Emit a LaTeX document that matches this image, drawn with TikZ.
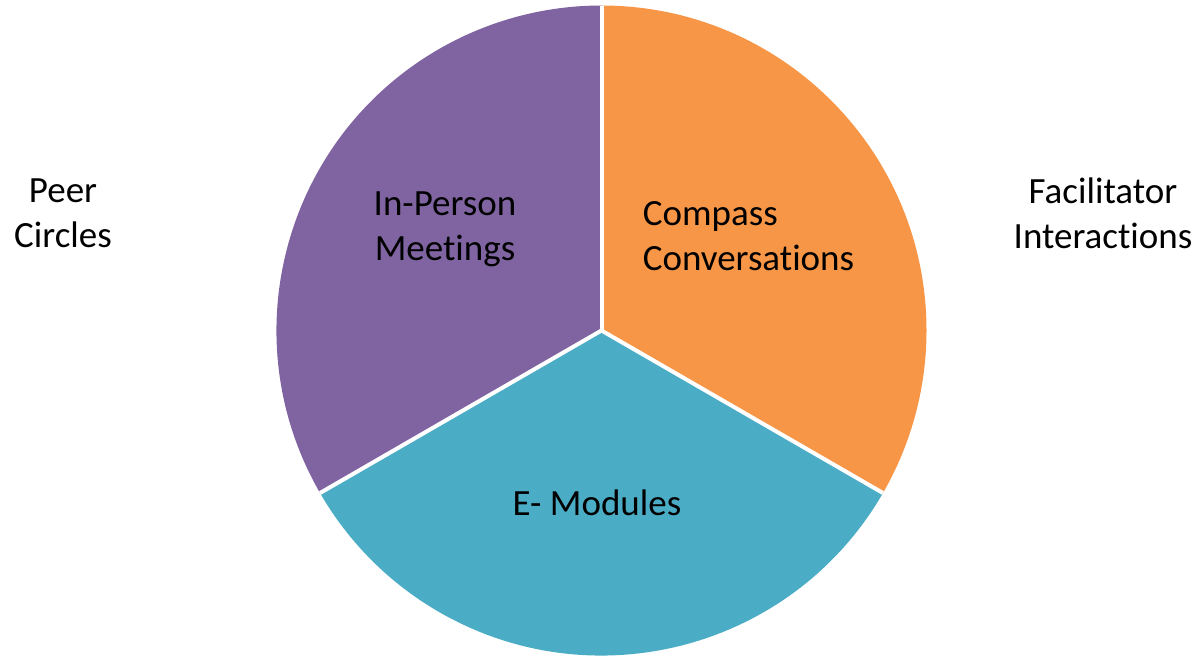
\documentclass[tikz,border=0pt]{standalone}
\usepackage{fontspec}
\setmainfont{Carlito}[Ligatures=NoCommon]
\definecolor{pieP}{HTML}{8064A2}
\definecolor{pieO}{HTML}{F79646}
\definecolor{pieB}{HTML}{4BACC6}
\tikzset{
  slice/.style={draw=white, line width=4pt, line join=round},
  lbl/.style={font=\fontsize{37}{45}\selectfont, text=black, align=center, inner sep=0pt},
}
\begin{document}
\begin{tikzpicture}[x=1pt,y=-1pt]
\useasboundingbox (0,0) rectangle (1199,656);
\coordinate (c) at (601.5,330.5);
\def\R{325}
\fill[pieO] (c) -- ++(90:-\R) arc[start angle=-90, end angle=30, radius=\R] -- cycle;
\fill[pieB] (c) -- ++(30:\R) arc[start angle=30, end angle=150, radius=\R] -- cycle;
\fill[pieP] (c) -- ++(150:\R) arc[start angle=150, end angle=270, radius=\R] -- cycle;
\draw[slice] (c) -- ++(0,-\R);
\draw[slice] (c) -- ++(30:\R);
\draw[slice] (c) -- ++(150:\R);
\node[lbl] (peer) at (63,213) {Peer\\Circles};
\node[lbl] (inp) at (445,229) {In-Person\\Meetings};
\node[lbl, align=left] (comp) at (748.5,236) {Compass\\Conversations};
\node[lbl] (fac) at (1103,213) {Facilitator\\Interactions};
\node[lbl] (emod) at (597,503) {E- Modules};
\end{tikzpicture}
\end{document}
